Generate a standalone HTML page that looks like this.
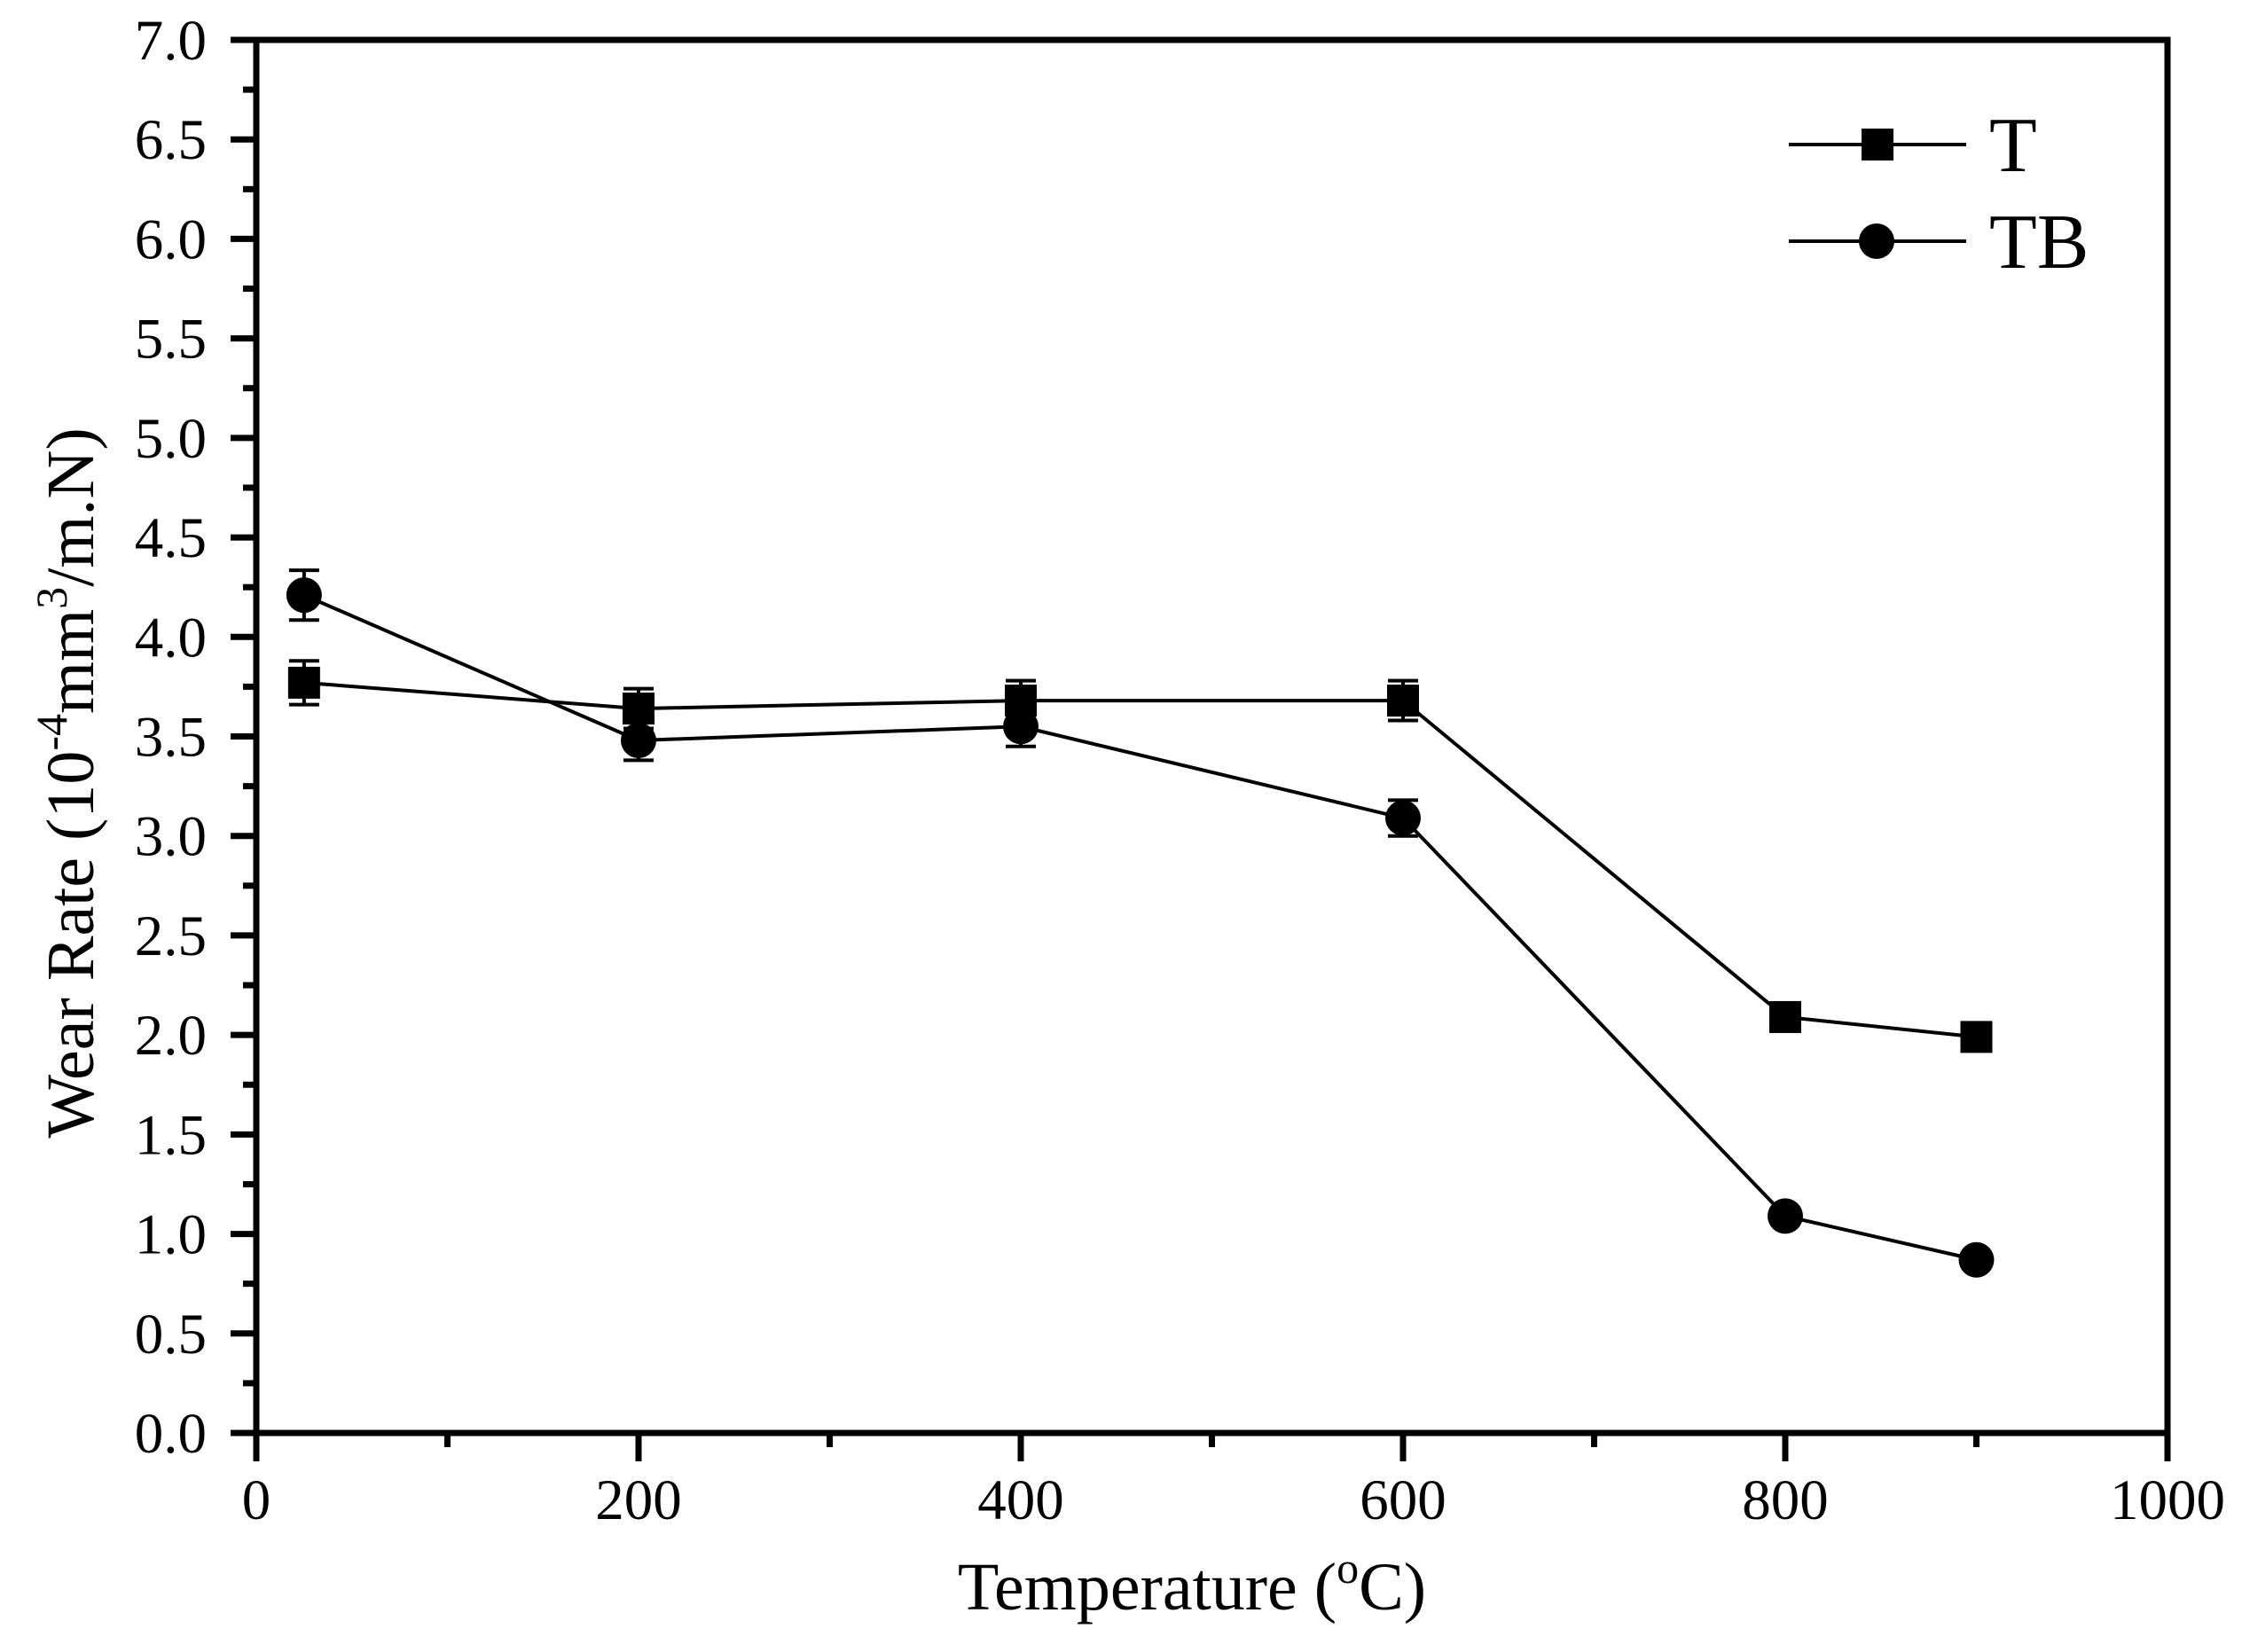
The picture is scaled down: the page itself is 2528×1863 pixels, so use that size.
<!DOCTYPE html>
<html><head><meta charset="utf-8"><style>
html,body{margin:0;padding:0;background:#fff}
svg{display:block}
text{font-family:"Liberation Serif",serif;fill:#000}
</style></head><body>
<svg id="chart" width="2528" height="1863" viewBox="0 0 2528 1863" xmlns="http://www.w3.org/2000/svg">
<rect width="2528" height="1863" fill="#fff"/>
<g id="axes"></g>
<g id="series"></g>
<g id="legend">
  <line x1="2017" y1="163" x2="2217" y2="163" stroke="#000" stroke-width="4"/>
  <rect x="2099" y="145" width="36" height="36" fill="#000"/>
  <text x="2243" y="193" font-size="88">T</text>
  <line x1="2017" y1="272" x2="2217" y2="272" stroke="#000" stroke-width="4"/>
  <circle cx="2116" cy="272" r="20" fill="#000"/>
  <text x="2243" y="302" font-size="88">TB</text>
</g>
<text x="1344" y="1815" font-size="76" text-anchor="middle">Temperature (<tspan font-size="50" dy="-30">o</tspan><tspan dy="30">C)</tspan></text>
<text transform="translate(105,883) rotate(-90)" font-size="76" text-anchor="middle">Wear Rate (10<tspan font-size="50" dy="-30">-4</tspan><tspan dy="30">mm</tspan><tspan font-size="50" dy="-30">3</tspan><tspan dy="30">/m.N)</tspan></text>
</svg>
<script>
const temps = [25, 200, 400, 600, 800, 900];
const seriesT = [3.77, 3.64, 3.68, 3.68, 2.09, 1.99];
const errT = [0.11, 0.1, 0.1, 0.1, 0, 0];
const seriesTB = [4.21, 3.48, 3.55, 3.09, 1.09, 0.87];
const errTB = [0.125, 0.1, 0.1, 0.09, 0, 0];
const xTicks = [0, 200, 400, 600, 800, 1000];
const yTicks = ["0.0","0.5","1.0","1.5","2.0","2.5","3.0","3.5","4.0","4.5","5.0","5.5","6.0","6.5","7.0"];

const NS = "http://www.w3.org/2000/svg";
const X0 = 289, X1 = 2444, Y0 = 1616, Y1 = 45;
const xs = v => X0 + (v / 1000) * (X1 - X0);
const ys = v => Y0 - (v / 7) * (Y0 - Y1);
function mk(tag, attrs, parent) {
  const e = document.createElementNS(NS, tag);
  for (const k in attrs) e.setAttribute(k, attrs[k]);
  parent.appendChild(e);
  return e;
}
const axes = document.getElementById('axes');
const frame = mk('rect', {x: X0, y: Y1, width: X1 - X0, height: Y0 - Y1, fill: 'none', stroke: '#000', 'stroke-width': 7}, axes);


// y ticks
for (let i = 0; i <= 14; i++) {
  const y = ys(i * 0.5);
  const t = mk('line', {x1: X0 - 29, x2: X0, y1: y, y2: y, stroke: '#000', 'stroke-width': 7}, axes);
  
  
  if (i < 14) {
    const ym = ys(i * 0.5 + 0.25);
    const m = mk('line', {x1: X0 - 15, x2: X0, y1: ym, y2: ym, stroke: '#000', 'stroke-width': 7}, axes);
    
    
  }
}
yTicks.forEach(lbl => {
  const tx = mk('text', {x: 233, y: ys(parseFloat(lbl)) + 22, 'font-size': 65, 'text-anchor': 'end'}, axes);
  tx.textContent = lbl;
  
  
});
// x ticks
xTicks.forEach(v => {
  const x = xs(v);
  const t = mk('line', {x1: x, x2: x, y1: Y0, y2: Y0 + 32, stroke: '#000', 'stroke-width': 7}, axes);
  
  
  if (v < 1000) {
    const m = mk('line', {x1: xs(v + 100), x2: xs(v + 100), y1: Y0, y2: Y0 + 16, stroke: '#000', 'stroke-width': 7}, axes);
    
    
  }
  const tx = mk('text', {x: x, y: 1713, 'font-size': 65, 'text-anchor': 'middle'}, axes);
  tx.textContent = String(v);
  
  
});
// series
const sg = document.getElementById('series');
function drawSeries(vals, errs, shape, name) {
  const pts = temps.map((t, i) => xs(t) + ',' + ys(vals[i])).join(' ');
  const pl = mk('polyline', {points: pts, fill: 'none', stroke: '#000', 'stroke-width': 4}, sg);
  
  
  temps.forEach((t, i) => {
    const x = xs(t), y = ys(vals[i]);
    if (errs[i] > 0) {
      const yt = ys(vals[i] + errs[i]), yb = ys(vals[i] - errs[i]);
      const eb = mk('path', {d: `M${x},${yt}V${yb}M${x-17},${yt}H${x+17}M${x-17},${yb}H${x+17}`, stroke: '#000', 'stroke-width': 4, fill: 'none'}, sg);
      
      
    }
    let m;
    if (shape === 'square') m = mk('rect', {x: x - 18, y: y - 18, width: 36, height: 36, fill: '#000'}, sg);
    else m = mk('circle', {cx: x, cy: y, r: 20, fill: '#000'}, sg);
    
    
  });
}
drawSeries(seriesT, errT, 'square', 'series-t');
drawSeries(seriesTB, errTB, 'circle', 'series-tb');
</script>
</body></html>
